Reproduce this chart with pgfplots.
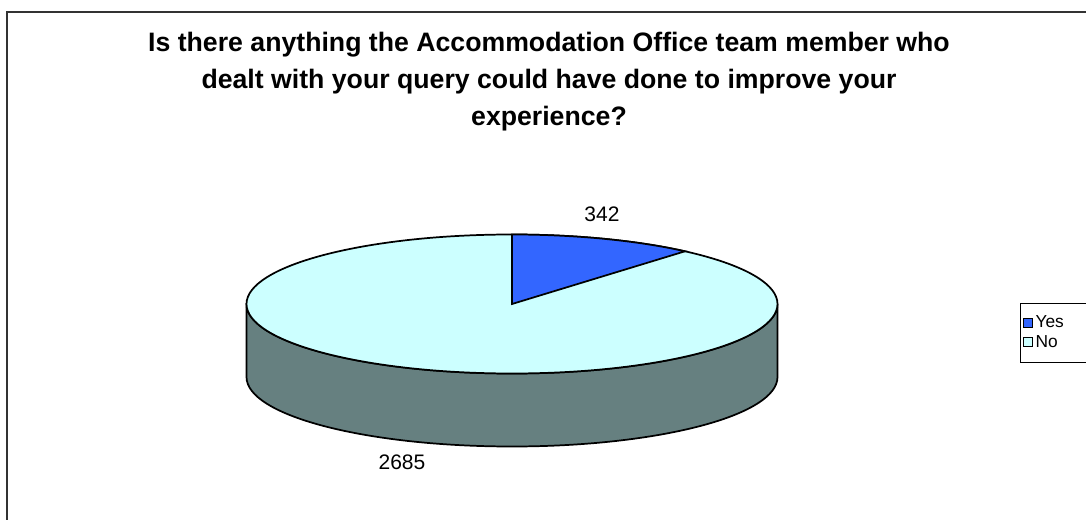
\documentclass[border=0pt]{standalone}
\usepackage{fontspec}
\setmainfont{Liberation Sans}
\usepackage{pgfplots}
\usepackage{pgfplotstable}
\pgfplotsset{compat=1.18}
\definecolor{yescol}{HTML}{3366FF}
\definecolor{nocol}{HTML}{CCFFFF}
\definecolor{sidecol}{HTML}{668080}
\definecolor{framecol}{HTML}{333333}
\pgfplotstableread{
label value
Yes 342
No 2685
}\piedata
\pgfplotstablegetelem{0}{value}\of\piedata \let\yesval\pgfplotsretval
\pgfplotstablegetelem{1}{value}\of\piedata \let\noval\pgfplotsretval
\pgfmathsetmacro\sweep{360*(\yesval/(\yesval+\noval))}
% 1 px = 0.75 pt
\def\rx{199.125pt}
\def\ry{52.125pt}
\begin{document}
\begin{tikzpicture}
\begin{axis}[
  scale only axis, width=814.5pt, height=390pt,
  xmin=0, xmax=1086, ymin=0, ymax=520, y dir=reverse,
  hide axis, clip=true,
  legend style={at={(1020/1086,1-303/520)}, anchor=north west,
    draw=black, line width=0.6pt, font=\fontsize{13pt}{15.5pt}\selectfont,
    inner xsep=2pt, inner ysep=7.5pt, row sep=0pt,
    legend cell align=left},
  legend image code/.code={\draw[#1, line width=0.6pt] (0pt,-3.4pt) rectangle (6.8pt,3.4pt);},
]
\addlegendimage{fill=yescol, draw=black}
\addlegendentry{\makebox[55pt][l]{Yes}}
\addlegendimage{fill=nocol, draw=black}
\addlegendentry{No}
% frame
\draw[framecol, line width=1.5pt] (axis cs:7,540) -- (axis cs:7,12) -- (axis cs:1100,12);
% title
\node[font=\bfseries\fontsize{20pt}{27.75pt}\selectfont, align=center] at (axis cs:549,82)
  {Is there anything the Accommodation Office team member who\\dealt with your query could have done to improve your\\experience?};
% pie side
\filldraw[fill=sidecol, draw=black, line width=1.3pt]
  (axis cs:246.5,304) -- (axis cs:246.5,377) arc[start angle=180, end angle=360, x radius=\rx, y radius=\ry]
  -- (axis cs:777.5,304) arc[start angle=0, end angle=-180, x radius=\rx, y radius=\ry] -- cycle;
% top face (No)
\filldraw[fill=nocol, draw=black, line width=1.3pt] (axis cs:512,304) ellipse[x radius=\rx, y radius=\ry];
% Yes slice
\filldraw[fill=yescol, draw=black, line width=1.3pt]
  (axis cs:512,304) -- (axis cs:512,234.5) arc[start angle=90, end angle={90-\sweep}, x radius=\rx, y radius=\ry] -- cycle;
% value labels
\node[font=\fontsize{15.75pt}{18pt}\selectfont] at (axis cs:602,214) {\yesval};
\node[font=\fontsize{15.75pt}{18pt}\selectfont] at (axis cs:402,462) {\noval};
\end{axis}
\pgfresetboundingbox
\useasboundingbox (0,0) rectangle (814.5pt,390pt);
\end{tikzpicture}
\end{document}
